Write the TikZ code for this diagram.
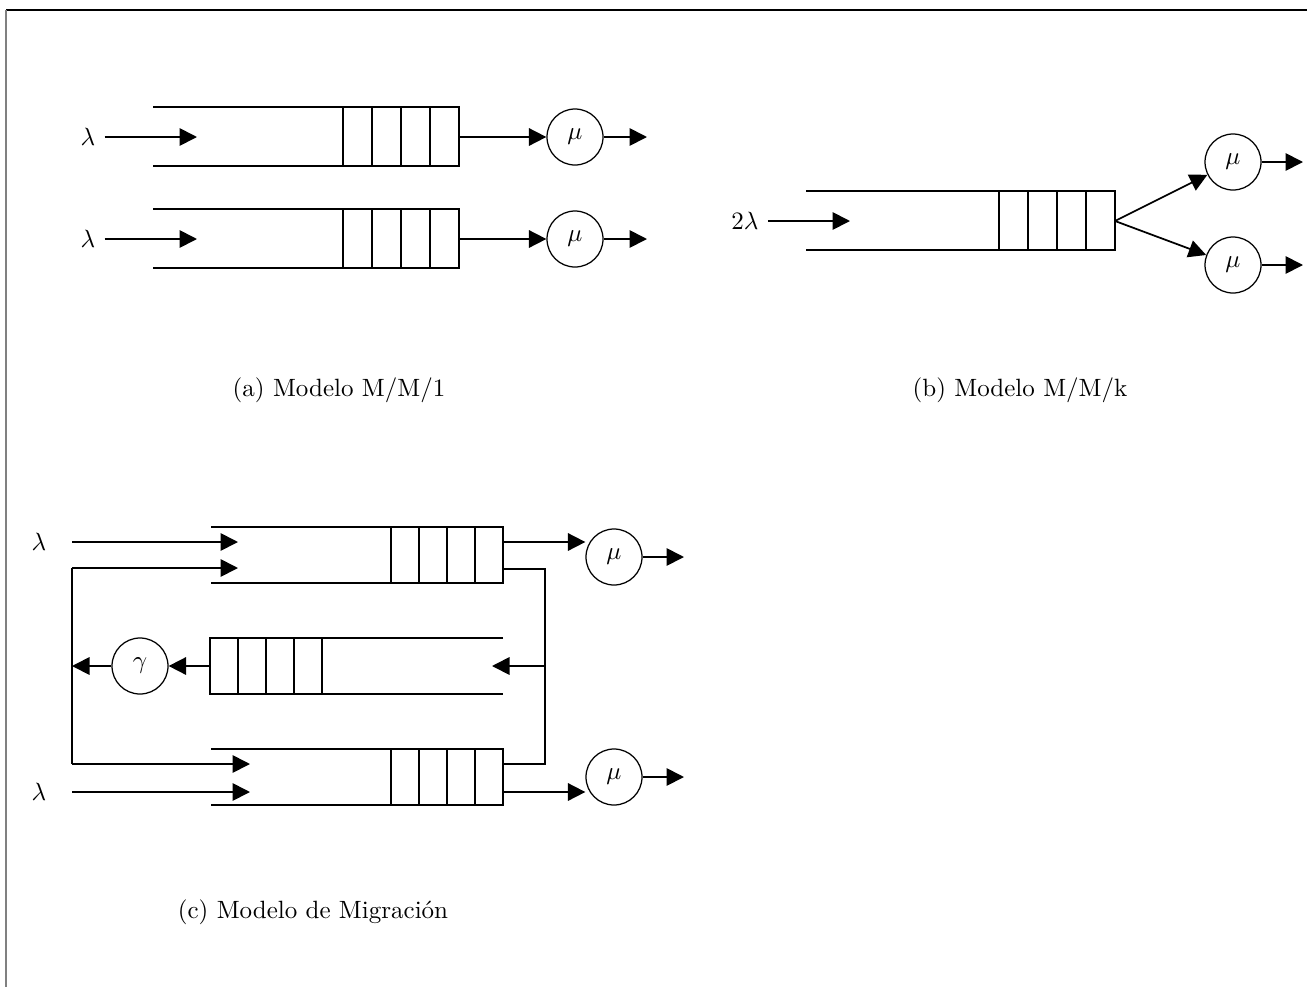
\documentclass[tikz,border=0pt]{standalone}
\usepackage{fontspec}
\usepackage{tikz}
\usetikzlibrary{arrows.meta}

\begin{document}
\begin{tikzpicture}[x=0.4pt,y=-0.4pt,>={Triangle[length=7pt,width=7pt]},line width=0.7pt,
  srv/.style={draw,circle,line width=0.5pt,minimum size=22.4pt,inner sep=0pt}]
\useasboundingbox (0,0) rectangle (1307,987);
% frame
\draw[black,line width=0.8pt] (6,10) -- (1307,10);
\draw[gray,line width=1pt] (6,10) -- (6,987);
% (a) two M/M/1 queues
\draw (153,107) -- (459,107) -- (459,166) -- (153,166);
\draw (343,107) -- (343,166) (372,107) -- (372,166) (401,107) -- (401,166) (430,107) -- (430,166);
\draw (153,209) -- (459,209) -- (459,268) -- (153,268);
\draw (343,209) -- (343,268) (372,209) -- (372,268) (401,209) -- (401,268) (430,209) -- (430,268);
\node (la1) at (88,137) {$\lambda$};
\node (la2) at (88,239) {$\lambda$};
\coordinate (in1) at (197,137);
\coordinate (in2) at (197,239);
\draw[->] (la1) -- (in1);
\draw[->] (la2) -- (in2);
\coordinate (o1) at (459,137);
\coordinate (o2) at (459,239);
\node[srv] (mu1) at (575,137) {$\mu$};
\node[srv] (mu2) at (575,239) {$\mu$};
\draw[->] (o1) -- (mu1);
\draw[->] (o2) -- (mu2);
\coordinate (e1) at (647,137);
\coordinate (e2) at (647,239);
\draw[->] (mu1) -- (e1);
\draw[->] (mu2) -- (e2);
\node (capa) at (339,390) {(a) Modelo M/M/1};
% (b) M/M/k queue
\draw (806,191) -- (1115,191) -- (1115,250) -- (806,250);
\draw (999,191) -- (999,250) (1028,191) -- (1028,250) (1057,191) -- (1057,250) (1086,191) -- (1086,250);
\node (la3) at (745,221) {$2\lambda$};
\coordinate (in3) at (850,221);
\draw[->] (la3) -- (in3);
\coordinate (f3) at (1115,221);
\node[srv] (mu3) at (1233,162) {$\mu$};
\node[srv] (mu4) at (1233,265) {$\mu$};
\draw[->] (f3) -- (mu3);
\draw[->] (f3) -- (mu4);
\coordinate (e3) at (1303,162);
\coordinate (e4) at (1303,265);
\draw[->] (mu3) -- (e3);
\draw[->] (mu4) -- (e4);
\node (capb) at (1020,390) {(b) Modelo M/M/k};
% (c) migration model
\draw (211,527) -- (503,527) -- (503,583) -- (211,583);
\draw (391,527) -- (391,583) (419,527) -- (419,583) (447,527) -- (447,583) (475,527) -- (475,583);
\draw (503,638) -- (210,638) -- (210,694) -- (503,694);
\draw (238,638) -- (238,694) (266,638) -- (266,694) (294,638) -- (294,694) (322,638) -- (322,694);
\draw (211,749) -- (503,749) -- (503,805) -- (211,805);
\draw (391,749) -- (391,805) (419,749) -- (419,805) (447,749) -- (447,805) (475,749) -- (475,805);
\node (la5) at (39,542) {$\lambda$};
\node (la6) at (39,792) {$\lambda$};
\coordinate (s5) at (72,542);
\coordinate (s6) at (72,792);
\coordinate (in5) at (238,542);
\coordinate (in6) at (250,792);
\draw[->] (s5) -- (in5);
\draw[->] (s6) -- (in6);
% outputs
\coordinate (o5) at (503,542);
\coordinate (o6) at (503,792);
\node[srv] (mu5) at (614,557) {$\mu$};
\node[srv] (mu6) at (614,777) {$\mu$};
\draw[->] (o5) -- (o5 -| mu5.west);
\draw[->] (o6) -- (o6 -| mu6.west);
\coordinate (e5) at (684,557);
\coordinate (e6) at (684,777);
\draw[->] (mu5) -- (e5);
\draw[->] (mu6) -- (e6);
% migration loop
\coordinate (b5) at (503,569);
\coordinate (rt) at (545,569);
\coordinate (rb) at (545,764);
\coordinate (b6) at (503,764);
\draw (b5) -- (rt) -- (rb) -- (b6);
\coordinate (rm) at (545,666);
\coordinate (in7) at (492,666);
\draw[->] (rm) -- (in7);
\coordinate (o7) at (210,666);
\node[srv] (ga) at (140,666) {$\gamma$};
\draw[->] (o7) -- (ga);
\coordinate (lm) at (72,666);
\draw[->] (ga) -- (lm);
\coordinate (lt) at (72,568);
\coordinate (lb) at (72,764);
\draw (lt) -- (lb);
\coordinate (in8) at (238,568);
\coordinate (in9) at (250,764);
\draw[->] (lt) -- (in8);
\draw[->] (lb) -- (in9);
\node (capc) at (313,912) {(c) Modelo de Migración};
\end{tikzpicture}
\end{document}
